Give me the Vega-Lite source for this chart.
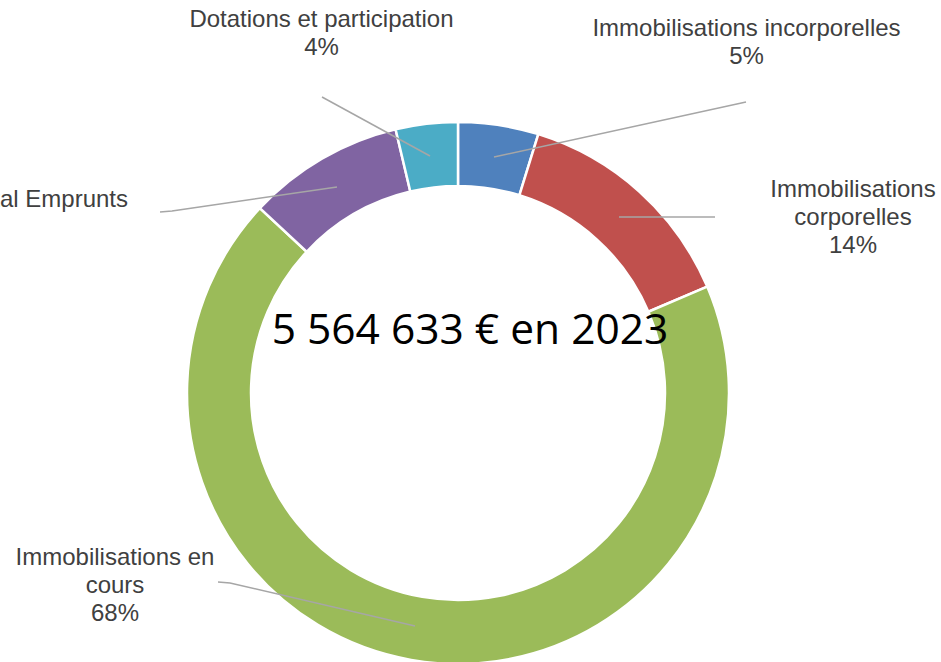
{
  "$schema": "https://vega.github.io/schema/vega-lite/v6.json",
  "width": 916,
  "height": 538,
  "autosize": "none",
  "padding": {"left": 0, "top": 124, "right": 25, "bottom": 0},
  "background": "white",
  "config": {"view": {"stroke": null}},
  "datasets": {
    "postes": [
      {"poste": "Immobilisations incorporelles", "montant": 266546, "ordre": 1},
      {"poste": "Immobilisations corporelles", "montant": 767363, "ordre": 2},
      {"poste": "Immobilisations en cours", "montant": 3804540, "ordre": 3},
      {"poste": "Capital Emprunts", "montant": 520293, "ordre": 4},
      {"poste": "Dotations et participation", "montant": 205891, "ordre": 5}
    ],
    "etiquettes": [
      {"poste": "Immobilisations incorporelles", "texte": ["Immobilisations incorporelles", "5%"], "u": 1.0646, "v": 1.3432},
      {"poste": "Immobilisations corporelles", "texte": ["Immobilisations", "corporelles", "14%"], "u": 1.4576, "v": 0.7491},
      {"poste": "Immobilisations en cours", "texte": ["Immobilisations en", "cours", "68%"], "u": -1.2657, "v": -0.6089},
      {"poste": "Capital Emprunts", "texte": ["Capital Emprunts"], "u": -1.5572, "v": 0.7122},
      {"poste": "Dotations et participation", "texte": ["Dotations et participation", "4%"], "u": -0.5037, "v": 1.3764}
    ],
    "reperes": [
      {"poste": "Immobilisations incorporelles", "point": 1, "u": 0.1328, "v": 0.8708},
      {"poste": "Immobilisations incorporelles", "point": 2, "u": 1.0627, "v": 1.0738},
      {"poste": "Immobilisations corporelles", "point": 1, "u": 0.5941, "v": 0.6494},
      {"poste": "Immobilisations corporelles", "point": 2, "u": 0.9483, "v": 0.6494},
      {"poste": "Immobilisations en cours", "point": 1, "u": -0.1587, "v": -0.8598},
      {"poste": "Immobilisations en cours", "point": 2, "u": -0.8413, "v": -0.7011},
      {"poste": "Immobilisations en cours", "point": 3, "u": -0.8856, "v": -0.6974},
      {"poste": "Capital Emprunts", "point": 1, "u": -0.4465, "v": 0.7601},
      {"poste": "Capital Emprunts", "point": 2, "u": -1.0554, "v": 0.6716},
      {"poste": "Capital Emprunts", "point": 3, "u": -1.0996, "v": 0.6679},
      {"poste": "Dotations et participation", "point": 1, "u": -0.1033, "v": 0.8745},
      {"poste": "Dotations et participation", "point": 2, "u": -0.5018, "v": 1.0923}
    ]
  },
  "layer": [
    {
      "data": {"name": "postes"},
      "mark": {"type": "arc", "radius": 271, "radius2": 207, "stroke": "white", "strokeWidth": 2.5},
      "encoding": {
        "theta": {"field": "montant", "type": "quantitative", "stack": true},
        "order": {"field": "ordre", "type": "quantitative"},
        "color": {
          "field": "poste",
          "type": "nominal",
          "scale": {
            "domain": ["Immobilisations incorporelles", "Immobilisations corporelles", "Immobilisations en cours", "Capital Emprunts", "Dotations et participation"],
            "range": ["#4F81BD", "#C0504D", "#9BBB59", "#8064A2", "#4BACC6"]
          },
          "legend": null
        }
      }
    },
    {
      "data": {"name": "reperes"},
      "mark": {"type": "line", "color": "#A6A6A6", "strokeWidth": 1.5, "clip": false},
      "encoding": {
        "x": {"field": "u", "type": "quantitative", "scale": {"domain": [-1.69, 1.69], "nice": false, "zero": false}, "axis": null},
        "y": {"field": "v", "type": "quantitative", "scale": {"domain": [-0.99262, 0.99262], "nice": false, "zero": false}, "axis": null},
        "detail": {"field": "poste"},
        "order": {"field": "point", "type": "quantitative"}
      }
    },
    {
      "data": {"name": "etiquettes"},
      "mark": {"type": "text", "font": "Liberation Sans", "fontSize": 24, "lineHeight": 28, "color": "#404040", "align": "center", "baseline": "middle", "clip": false},
      "encoding": {
        "x": {"field": "u", "type": "quantitative"},
        "y": {"field": "v", "type": "quantitative"},
        "text": {"field": "texte"}
      }
    },
    {
      "data": {"values": [{"texte": "5 564 633 € en 2023"}]},
      "mark": {"type": "text", "font": "Open Sans", "fontSize": 42.5, "color": "black", "align": "center", "baseline": "alphabetic", "dx": 12, "dy": -49},
      "encoding": {
        "text": {"field": "texte"}
      }
    }
  ]
}
